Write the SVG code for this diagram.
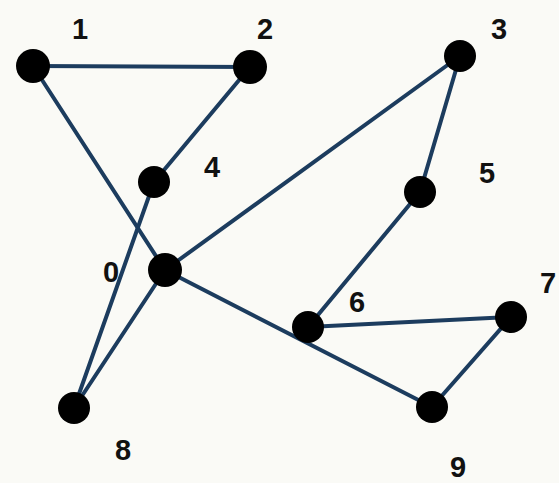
<svg xmlns="http://www.w3.org/2000/svg" width="559" height="483" viewBox="0 0 559 483">
<style>
.e{stroke:#1c3c5e;stroke-width:4;stroke-linecap:round;fill:none}
.n{fill:#000}
.l{font-family:"Liberation Sans",Arial,sans-serif;font-weight:bold;font-size:29px;fill:#111;text-anchor:middle}
</style>
<rect width="559" height="483" fill="#fafaf6"/>
<g id="edges">
<line class="e" x1="33" y1="66" x2="250" y2="67"/>
<line class="e" x1="250" y1="67" x2="154" y2="182"/>
<line class="e" x1="33" y1="66" x2="165" y2="270"/>
<line class="e" x1="154" y1="182" x2="74" y2="408"/>
<line class="e" x1="165" y1="270" x2="74" y2="408"/>
<line class="e" x1="165" y1="270" x2="460" y2="56"/>
<line class="e" x1="460" y1="56" x2="420" y2="192"/>
<line class="e" x1="420" y1="192" x2="308" y2="327"/>
<line class="e" x1="308" y1="327" x2="511" y2="317"/>
<line class="e" x1="511" y1="317" x2="432" y2="407"/>
<line class="e" x1="165" y1="270" x2="432" y2="407"/>
</g>
<g id="node0"><circle class="n" cx="165" cy="270" r="17"/><text class="l" x="111" y="282">0</text></g>
<g id="node1"><circle class="n" cx="33" cy="66" r="17"/><text class="l" x="80" y="39">1</text></g>
<g id="node2"><circle class="n" cx="250" cy="67" r="17"/><text class="l" x="265" y="39">2</text></g>
<g id="node3"><circle class="n" cx="460" cy="56" r="16"/><text class="l" x="499" y="39">3</text></g>
<g id="node4"><circle class="n" cx="154" cy="182" r="16"/><text class="l" x="212" y="177">4</text></g>
<g id="node5"><circle class="n" cx="420" cy="192" r="16"/><text class="l" x="487" y="183">5</text></g>
<g id="node6"><circle class="n" cx="308" cy="327" r="16"/><text class="l" x="357" y="312">6</text></g>
<g id="node7"><circle class="n" cx="511" cy="317" r="16"/><text class="l" x="548" y="293">7</text></g>
<g id="node8"><circle class="n" cx="74" cy="408" r="16"/><text class="l" x="123" y="460">8</text></g>
<g id="node9"><circle class="n" cx="432" cy="407" r="16"/><text class="l" x="458" y="477">9</text></g>
</svg>
